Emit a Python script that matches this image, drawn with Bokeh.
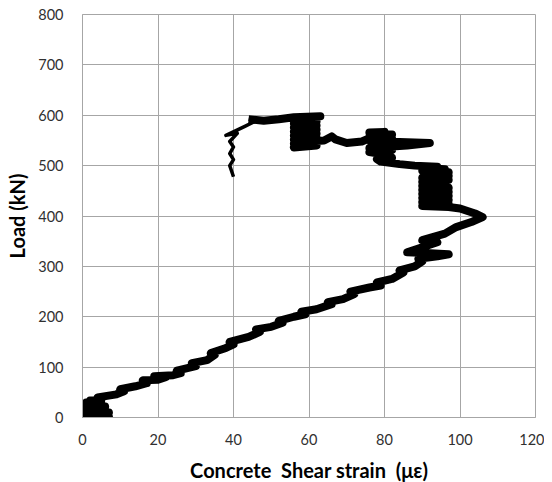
from bokeh.plotting import figure
from bokeh.models import FixedTicker
from bokeh.embed import file_html
from bokeh.resources import INLINE

# Concrete shear strain (micro-strain) vs load (kN)
strain_main = [
    0, 7, 6, 0, 7, 0, 6, 0, 6, 0, 5, 1, 4, 2, 5, 4, 9, 11, 10, 14, 17, 16, 20, 22,
    19, 24, 26, 25, 30, 29, 33, 35, 34, 38, 40, 39, 44, 47, 46, 50, 53, 52, 56, 59,
    58, 62, 66, 65, 69, 72, 71, 76, 79, 78, 82, 85, 84, 88, 90, 89, 94, 97, 92, 86,
    90, 94, 90, 96, 99, 103, 106, 104, 100, 97,
    90, 97, 90, 97, 90, 97, 90, 97, 90, 97, 90, 96, 90, 97, 90, 97, 92, 97, 90, 96,
    90, 94, 88, 84, 79, 78, 82, 80, 76, 82, 76, 86, 92, 84, 76, 82, 76, 82, 76, 80,
    74, 70, 67, 66, 64, 60,
    56, 62, 56, 62, 56, 62, 56, 62, 56, 62, 56, 62, 56, 62, 56, 62, 56, 63,
    56, 52, 48, 44]
load_main = [
    0, 2, 5, 7, 10, 13, 16, 19, 22, 25, 28, 30, 32, 34, 36, 40, 46, 52, 56, 62, 68, 74, 75, 80,
    82, 84, 88, 93, 102, 108, 114, 124, 128, 138, 145, 150, 160, 170, 175, 180, 188, 192, 200, 205,
    210, 215, 225, 229, 235, 245, 250, 258, 262, 268, 275, 288, 292, 300, 310, 315, 320, 324, 326, 328,
    338, 348, 352, 365, 378, 388, 398, 405, 415, 418,
    420, 424, 428, 432, 436, 440, 444, 448, 452, 456, 460, 464, 468, 472, 476, 480, 484, 487, 490, 493,
    496, 498, 500, 503, 508, 513, 516, 522, 527, 531, 535, 540, 545, 547, 550, 554, 558, 562, 566, 567,
    548, 545, 552, 558, 550, 548,
    536, 540, 544, 548, 552, 556, 560, 564, 568, 572, 576, 580, 584, 588, 592, 596, 596, 598,
    596, 592, 589, 592]
strain_tail = [44, 46, 43, 38, 41, 39, 40, 39, 40, 39, 40]
load_tail = [592, 589, 578, 560, 564, 548, 537, 524, 512, 500, 478]

x_ticks = [0, 20, 40, 60, 80, 100, 120]
y_ticks = [0, 100, 200, 300, 400, 500, 600, 700, 800]

GRID = "#a6a6a6"
FONT = "Lato"

p = figure(frame_width=453, frame_height=403, x_range=(0, 120), y_range=(0, 800),
           output_backend="svg", toolbar_location=None,
           min_border_left=82, min_border_right=9, min_border_top=14, min_border_bottom=57)

p.line(strain_main, load_main, line_color="black", line_width=8, line_join="round")
p.line(strain_tail, load_tail, line_color="black", line_width=3.5, line_join="round")

p.xaxis.ticker = FixedTicker(ticks=x_ticks)
p.yaxis.ticker = FixedTicker(ticks=y_ticks)
p.xgrid.grid_line_color = GRID
p.ygrid.grid_line_color = GRID
p.outline_line_color = GRID

for ax in (p.xaxis[0], p.yaxis[0]):
    ax.axis_line_color = GRID
    ax.major_tick_line_color = None
    ax.minor_tick_line_color = None
    ax.major_label_text_font = FONT
    ax.major_label_text_font_size = "14.5px"
    ax.major_label_text_color = "#303030"
    ax.axis_label_text_font = FONT
    ax.axis_label_text_font_size = "20px"
    ax.axis_label_text_font_style = "bold"
    ax.axis_label_text_color = "black"

p.xaxis.axis_label = "Concrete\u00a0 Shear strain\u00a0 (\u03bc\u03b5)"
p.yaxis.axis_label = "Load (kN)"
p.xaxis.major_label_standoff = 10
p.yaxis.major_label_standoff = 13
p.xaxis.axis_label_standoff = 10
p.yaxis.axis_label_standoff = 6
p.background_fill_color = "white"
p.border_fill_color = "white"

open("out.html", "w").write(file_html(p, INLINE))
